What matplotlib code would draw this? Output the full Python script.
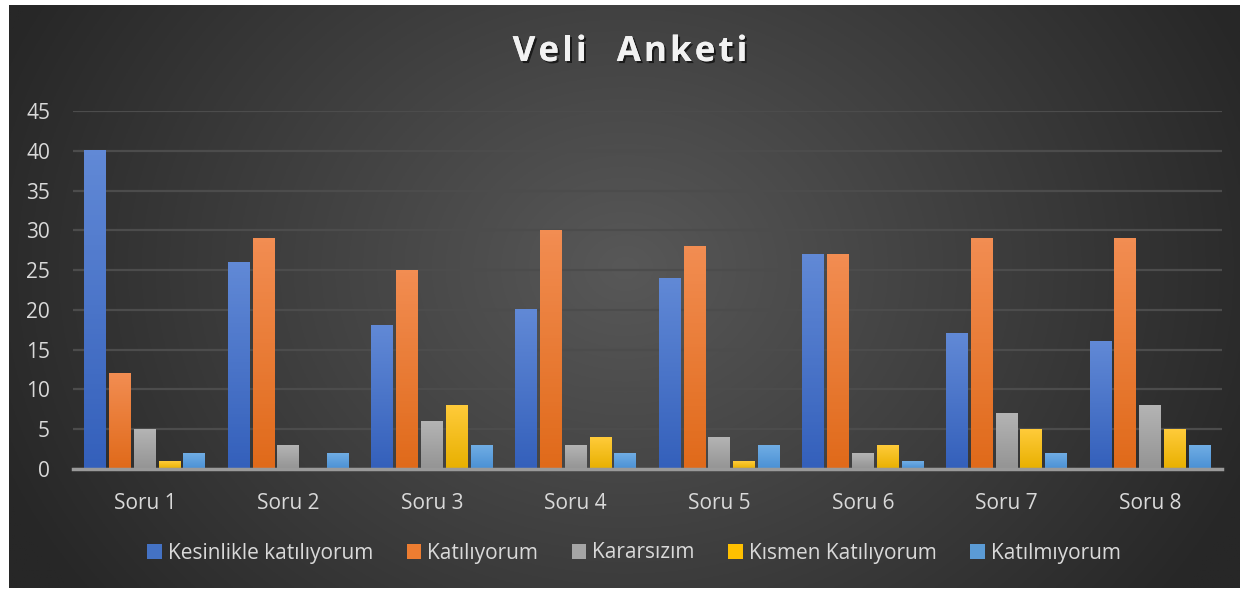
import numpy as np
import matplotlib
matplotlib.use("Agg")
import matplotlib.pyplot as plt
from matplotlib.patches import Patch
from matplotlib.colors import to_rgb
import matplotlib.patheffects as pe

categories = ["Soru 1", "Soru 2", "Soru 3", "Soru 4", "Soru 5", "Soru 6", "Soru 7", "Soru 8"]
series_names = ["Kesinlikle katılıyorum", "Katılıyorum", "Kararsızım", "Kısmen Katılıyorum", "Katılmıyorum"]
kesinlikle = [40, 26, 18, 20, 24, 27, 17, 16]
katiliyorum = [12, 29, 25, 30, 28, 27, 29, 29]
kararsizim = [5, 3, 6, 3, 4, 2, 7, 8]
kismen = [1, 0, 8, 4, 1, 3, 5, 5]
katilmiyorum = [2, 2, 3, 2, 3, 1, 2, 3]
series = [kesinlikle, katiliyorum, kararsizim, kismen, katilmiyorum]
yticks = [0, 5, 10, 15, 20, 25, 30, 35, 40, 45]
title = "Veli  Anketi"

top_colors = ["#6189d6", "#f28d52", "#b4b4b4", "#ffcb3a", "#70ade4"]
bot_colors = ["#3460bb", "#e06a1a", "#949494", "#e8b000", "#4a90d4"]
legend_colors = ["#4472c4", "#ed7d31", "#a5a5a5", "#ffc000", "#5b9bd5"]

plt.rcParams['font.family'] = ['Open Sans', 'DejaVu Sans']

W, H = 1251, 590
fig = plt.figure(figsize=(W/100, H/100), dpi=100)
fig.patch.set_facecolor("white")

# background radial gradient
bx0, bx1, by0, by1 = 9/W, 1240/W, 1-588/H, 1-5/H
bg = fig.add_axes([bx0, by0, bx1-bx0, by1-by0], zorder=-5)
ny, nx = 300, 600
yy, xx = np.mgrid[0:ny, 0:nx]
cx, cy = nx*0.5, ny*0.45
r = np.sqrt(((xx-cx)/(nx*0.55))**2 + ((yy-cy)/(ny*0.95))**2)
r = np.clip(r, 0, 1)
v = (0x58*(1-r) + 0x27*r)/255.0
img = np.dstack([v, v, v])
bg.imshow(img, aspect='auto', extent=[0, 1, 0, 1], origin='upper')
bg.set_axis_off()

ax = fig.add_axes([73/W, 1-469/H, (1222-73)/W, (469-111)/H])
ax.set_facecolor("none")
x = np.arange(len(categories))
slot = 0.1727
bw = 0.153
for i, (vals, tc, bc) in enumerate(zip(series, top_colors, bot_colors)):
    off = (i-2)*slot
    t = np.array(to_rgb(tc)); b = np.array(to_rgb(bc))
    grad = np.linspace(0, 1, 64)[:, None]
    gimg = (t[None, :]*(1-grad) + b[None, :]*grad)[:, None, :]
    for xi, val in zip(x, vals):
        if val <= 0:
            continue
        ax.imshow(gimg, extent=[xi+off-bw/2, xi+off+bw/2, 0, val], aspect='auto', origin='upper', zorder=3)

ax.set_xlim(-0.5, len(categories)-0.5)
ax.set_ylim(0, 45)
ax.set_yticks(yticks)
ax.set_yticklabels([str(t) for t in yticks], fontsize=15, color="#d9d9d9")
ax.set_xticks(x)
ax.set_xticklabels(categories, fontsize=15, color="#d9d9d9")
ax.tick_params(axis='both', length=0)
ax.tick_params(axis='x', pad=17)
ax.tick_params(axis='y', pad=16.5)
ax.grid(axis='y', color="#4c4c4c", linewidth=1.6, zorder=0)
ax.set_axisbelow(True)
for s in ["top", "right", "left"]:
    ax.spines[s].set_visible(False)
ax.spines["bottom"].set_color("#9a9a9a")
ax.spines["bottom"].set_linewidth(2.5)
ax.spines["bottom"].set_zorder(4)

# title with letter spacing
fig.canvas.draw()
renderer = fig.canvas.get_renderer()
tsize = 25
spacing = 3.2  # px
widths = []
for ch in title:
    tt = fig.text(0, 0, ch if ch != " " else "n", fontsize=tsize, fontweight='bold')
    bb = tt.get_window_extent(renderer)
    w = bb.width if ch != " " else bb.width*0.45
    widths.append(w)
    tt.remove()
total = sum(widths) + spacing*(len(title)-1)
xpos = 630 - total/2
shadow = [pe.withSimplePatchShadow(offset=(1.5, -1.5), shadow_rgbFace='black', alpha=0.6), pe.Normal()]
for ch, w in zip(title, widths):
    if ch != " ":
        fig.text(xpos/W, 1-52/H, ch, ha='left', va='center', fontsize=tsize, fontweight='bold',
                 color="#f2f2f2", path_effects=shadow)
    xpos += w + spacing

handles = [Patch(facecolor=c, edgecolor='none') for c in legend_colors]
leg = fig.legend(handles, series_names, loc='center', bbox_to_anchor=(634/W, 1-553/H), ncol=5, frameon=False,
                 fontsize=15, handlelength=0.7, handleheight=0.7, handletextpad=0.3, columnspacing=1.6)
for t in leg.get_texts():
    t.set_color("#d9d9d9")

fig.savefig("out.png", dpi=100, facecolor="white")
